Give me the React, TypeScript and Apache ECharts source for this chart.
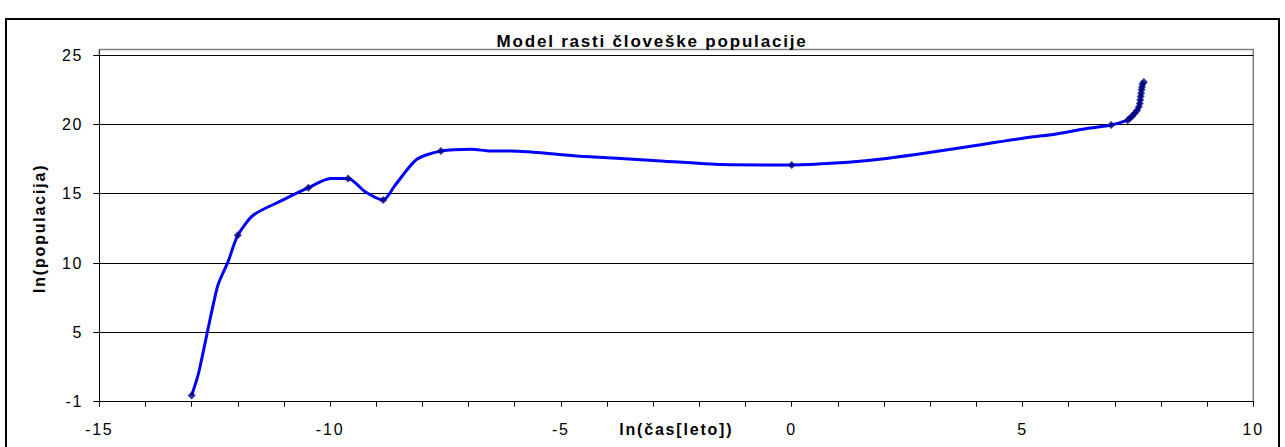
import React, { useEffect, useRef } from "react";
import * as echarts from "echarts";

const TITLE = "Model rasti človeške populacije";
const X_NAME = "ln(čas[leto])";
const Y_NAME = "ln(populacija)";

// smoothed line vertices [ln(time), ln(population)]
const lineX = [-13, -12.85, -12.44, -12.21, -12, -11.66, -11.05, -10.47, -9.99, -9.61, -9.24, -8.85, -8.59, -8.12, -7.6, -6.93, -6.54, -6.1, -4.58, -3, -1.5, 0, 1.9, 5.23, 5.67, 6.39, 6.92, 7.28, 7.33, 7.38, 7.43, 7.48, 7.52, 7.54, 7.55, 7.56, 7.57, 7.58, 7.59, 7.6, 7.63];
const lineY = [0.45, 2.05, 8.3, 10.1, 12, 13.46, 14.5, 15.43, 16.1, 16.1, 15.14, 14.54, 15.62, 17.48, 18.07, 18.2, 18.08, 18.08, 17.7, 17.4, 17.1, 17.07, 17.48, 19.1, 19.27, 19.7, 19.95, 20.3, 20.45, 20.6, 20.8, 21.0, 21.25, 21.5, 21.75, 22.0, 22.25, 22.5, 22.7, 22.9, 23.05];

// marked data points
const markerX = [-13, -12, -10.47, -9.61, -8.85, -7.6, 0, 6.92, 7.28, 7.33, 7.38, 7.43, 7.48, 7.52, 7.54, 7.55, 7.56, 7.57, 7.58, 7.59, 7.6, 7.63];
const markerY = [0.45, 12, 15.43, 16.1, 14.54, 18.07, 17.07, 19.95, 20.3, 20.45, 20.6, 20.8, 21.0, 21.25, 21.5, 21.75, 22.0, 22.25, 22.5, 22.7, 22.9, 23.05];

const X_MIN = -15, X_MAX = 10, X_STEP = 5;
const Y_MIN = 0, Y_MAX = 25, Y_STEP = 5;
const Y_BOTTOM_LABEL = "-1";

const FONT = "'Liberation Sans', Arial, sans-serif";

export default function App() {
  const ref = useRef<HTMLDivElement>(null);
  useEffect(() => {
    if (!ref.current) return;
    document.body.style.margin = "0";
    document.body.style.overflow = "hidden";
    document.documentElement.style.overflow = "hidden";
    const chart = echarts.init(ref.current, null, { renderer: "svg", width: 1285, height: 447 });
    const lineData = lineX.map((x, i) => [x, lineY[i]]);
    const markerData = markerX.map((x, i) => [x, markerY[i]]);
    chart.setOption({
      animation: false,
      backgroundColor: "#fff",
      title: {
        text: TITLE,
        left: 647,
        textAlign: "center",
        top: 28,
        textStyle: { fontFamily: FONT, fontWeight: "bold", fontSize: 17, color: "#000" },
      },
      grid: { left: 99.3, right: 31.7, top: 55, bottom: 45.3, containLabel: false },
      xAxis: {
        type: "value",
        min: X_MIN,
        max: X_MAX,
        interval: X_STEP,
        name: X_NAME,
        nameLocation: "middle",
        nameGap: 20,
        nameMoveOverlap: false,
        nameTextStyle: { fontFamily: FONT, fontWeight: "bold", fontSize: 16, color: "#000", verticalAlign: "top" },
        axisLine: { onZero: false, lineStyle: { color: "#000", width: 1 } },
        axisTick: { show: true, length: 5, lineStyle: { color: "#000" } },
        minorTick: { show: true, splitNumber: 5, length: 5, lineStyle: { color: "#000" } },
        splitLine: { show: false },
        axisLabel: { fontFamily: FONT, fontSize: 16, color: "#000", margin: 20 },
      },
      yAxis: {
        type: "value",
        min: Y_MIN,
        max: Y_MAX,
        interval: Y_STEP,
        name: Y_NAME,
        nameLocation: "middle",
        nameGap: 52,
        nameMoveOverlap: false,
        nameTextStyle: { fontFamily: FONT, fontWeight: "bold", fontSize: 16, color: "#000" },
        axisLine: { show: true, onZero: false, lineStyle: { color: "#000", width: 1 } },
        axisTick: { show: true, length: 6, lineStyle: { color: "#000" } },
        splitLine: { show: true, lineStyle: { color: "#000", width: 1 } },
        axisLabel: {
          fontFamily: FONT,
          fontSize: 16,
          color: "#000",
          margin: 16,
          formatter: (v: number) => (v === Y_MIN ? Y_BOTTOM_LABEL : String(v)),
        },
      },
      graphic: [
        {
          type: "rect",
          shape: { x: 6, y: 19, width: 1273, height: 440 },
          style: { fill: "none", stroke: "#000", lineWidth: 2 },
          silent: true,
        },
        {
          type: "polyline",
          shape: { points: [[99.3, 49.5], [1253.3, 49.5], [1253.3, 401.7]] },
          style: { fill: "none", stroke: "#808080", lineWidth: 1.5 },
          silent: true,
        },
        {
          type: "line",
          shape: { x1: 99.3, y1: 49.5, x2: 99.3, y2: 55 },
          style: { stroke: "#000", lineWidth: 1 },
          silent: true,
        },
      ],
      series: [
        {
          type: "line",
          data: lineData,
          smooth: 0.25,
          showSymbol: false,
          lineStyle: { color: "#0000ff", width: 3 },
          itemStyle: { color: "#0000ff" },
          z: 2,
        },
        {
          type: "scatter",
          data: markerData,
          symbol: "diamond",
          symbolSize: 8,
          itemStyle: { color: "#000080" },
          z: 3,
        },
      ],
    });
    return () => chart.dispose();
  }, []);
  return (
    <div
      ref={ref}
      style={{ width: 1285, height: 447, background: "#fff", letterSpacing: "1.8px" }}
    />
  );
}
